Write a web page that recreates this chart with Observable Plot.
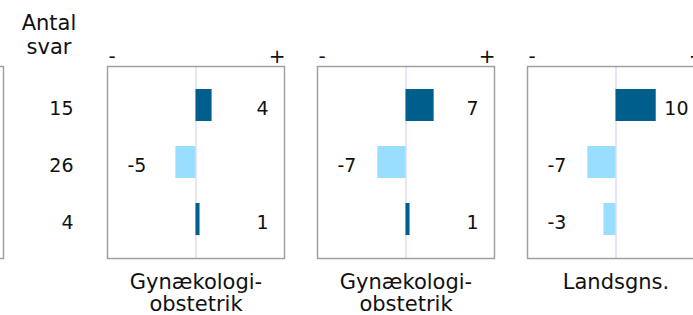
<!DOCTYPE html>
<html><head><meta charset="utf-8">
<script src="https://cdn.jsdelivr.net/npm/d3@7"></script>
<script src="https://cdn.jsdelivr.net/npm/@observablehq/plot@0.6"></script>
<style>
body{margin:0;background:#fff;overflow:hidden}
#chart{position:relative;width:693px;height:315px;overflow:hidden;font-family:"DejaVu Sans",Verdana,sans-serif}
#chart > .cell{position:absolute;top:0;height:315px}
#chart svg{overflow:visible;max-width:none !important;display:block}
</style></head><body><div id="chart"></div>
<script>
// ---- data ----
const rowKeys = ["r1", "r2", "r3"];
const antalSvar = [15, 26, 4];
const antalHeader = "Antal\nsvar";
const signLabels = ["-", "+"];
const panelLabels = ["Gynækologi-\nobstetrik", "Gynækologi-\nobstetrik", "Landsgns."];
const valuesGyn1 = [4, -5, 1];
const valuesGyn2 = [7, -7, 1];
const valuesLands = [10, -7, -3];
const xDomain = [-22, 22];

// ---- style ----
const FONT = '"DejaVu Sans", Verdana, sans-serif';
const DARK = "#005e8c", LIGHT = "#99ddff", ZERO = "#dcdcf2", FRAME = "#a0a0a0", INK = "#111";
const H = 315, MT = 66, MB = 57, PW = 210;
const yScale = () => ({type: "band", domain: rowKeys, paddingInner: 0.43, paddingOuter: 0.38, axis: null});
const chart = document.getElementById("chart");

function place(node, left, w) {
  const d = document.createElement("div");
  d.className = "cell";
  d.style.left = left + "px";
  d.style.width = w + "px";
  d.appendChild(node);
  chart.appendChild(d);
}

function panel(values, label) {
  const data = rowKeys.map((k, i) => ({row: k, value: values[i]}));
  const marks = [
    Plot.ruleX([0], {stroke: ZERO, strokeWidth: 1.5}),
    Plot.barX(data, {x1: 0, x2: "value", y: "row", fill: d => d.value >= 0 ? DARK : LIGHT}),
    Plot.frame({stroke: FRAME, strokeWidth: 1.5}),
    Plot.text(data.filter(d => d.value >= 0), {y: "row", text: d => String(d.value), frameAnchor: "right", textAnchor: "end", lineAnchor: "middle", dx: -16, dy: 3, fontSize: 19, fill: INK}),
    Plot.text(data.filter(d => d.value < 0), {y: "row", text: d => String(d.value), frameAnchor: "left", textAnchor: "start", lineAnchor: "middle", dx: 20, dy: 3, fontSize: 19, fill: INK}),
    Plot.text([signLabels[0]], {text: d => d, frameAnchor: "top-left", textAnchor: "start", lineAnchor: "middle", dx: 1, dy: -10, fontSize: 20, fill: INK}),
    Plot.text([signLabels[1]], {text: d => d, frameAnchor: "top-right", textAnchor: "end", lineAnchor: "middle", dx: 1, dy: -10, fontSize: 20, fill: INK})
  ];
  if (label) marks.push(Plot.text([label], {text: d => d, frameAnchor: "bottom", lineAnchor: "top", dy: 14, fontSize: 21, lineHeight: 1.08, fill: INK}));
  return Plot.plot({
    width: PW, height: H, marginLeft: 0, marginRight: 33, marginTop: MT, marginBottom: MB,
    x: {domain: xDomain, axis: null},
    y: yScale(),
    style: {fontFamily: FONT, background: "transparent"},
    marks
  });
}

// partially visible panel at left edge (frame only)
place(Plot.plot({
  width: PW, height: H, marginLeft: 0, marginRight: 33, marginTop: MT, marginBottom: MB,
  x: {domain: xDomain, axis: null}, y: yScale(),
  style: {fontFamily: FONT, background: "transparent"},
  marks: [Plot.frame({stroke: FRAME, strokeWidth: 1.5})]
}), -174, PW);

// Antal svar column
const antalData = rowKeys.map((k, i) => ({row: k, n: antalSvar[i]}));
place(Plot.plot({
  width: 107, height: H, marginLeft: 0, marginRight: 0, marginTop: MT, marginBottom: MB,
  x: {domain: [0, 1], axis: null}, y: yScale(),
  style: {fontFamily: FONT, background: "transparent"},
  marks: [
    Plot.text(antalData, {y: "row", text: d => String(d.n), frameAnchor: "right", textAnchor: "end", lineAnchor: "middle", dx: -34, dy: 3, fontSize: 19, fill: INK}),
    Plot.text([antalHeader], {text: d => d, frameAnchor: "top", lineAnchor: "top", dx: -5, dy: -53, fontSize: 21, lineHeight: 1.12, fill: INK})
  ]
}), 0, 107);

place(panel(valuesGyn1, panelLabels[0]), 107, PW);
place(panel(valuesGyn2, panelLabels[1]), 317, PW);
place(panel(valuesLands, panelLabels[2]), 527, PW);
</script></body></html>
